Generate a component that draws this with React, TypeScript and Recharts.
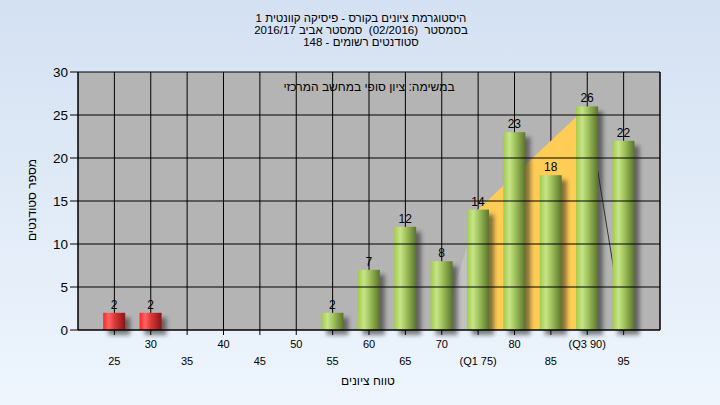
import React from 'react';
import { ComposedChart, Bar, Area, XAxis, YAxis, CartesianGrid, LabelList, ReferenceLine } from 'recharts';

const scoreBins = [25, 30, 35, 40, 45, 50, 55, 60, 65, 70, 75, 80, 85, 90, 95];
const studentCounts = [2, 2, 0, 0, 0, 0, 2, 7, 12, 8, 14, 23, 18, 26, 22];
const xTickLabels = ['25', '30', '35', '40', '45', '50', '55', '60', '65', '70', '(Q1 75)', '80', '85', '(Q3 90)', '95'];
const yTicks = [0, 5, 10, 15, 20, 25, 30];
const lowerWhisker = [{ x: 70, y: 0 }, { x: 75, y: 14 }];
const quartileBox = [{ x: 75, y: 14 }, { x: 90, y: 26 }];
const upperWhisker = [{ x: 90, y: 26 }, { x: 95, y: 0 }];
const titleLines = [
  'היסטוגרמת ציונים בקורס - פיסיקה קוונטית 1',
  'בסמסטר  (02/2016)  סמסטר אביב 2016/17',
  'סטודנטים רשומים - 148',
];
const subtitle = 'במשימה: ציון סופי במחשב המרכזי';
const xAxisTitle = 'טווח ציונים';
const yAxisTitle = 'מספר סטודנטים';
const FAIL_BELOW = 55;
const Y_MAX = 30;

const pick = (arr: { x: number; y: number }[], x: number) => {
  const p = arr.find((d) => d.x === x);
  return p ? p.y : null;
};

const chartData = scoreBins.map((score, i) => ({
  score,
  count: studentCounts[i],
  low: pick(lowerWhisker, score),
  box: pick(quartileBox, score),
  high: pick(upperWhisker, score),
}));

const FONT = "'Liberation Sans', Arial, sans-serif";

const BarShape = (props: any) => {
  const { x, y, width, height, payload, index } = props;
  if (!height || height <= 0) return null;
  const red = payload.score < FAIL_BELOW;
  const gid = `barGrad${index}`;
  const fid = `barBlur${index}`;
  return (
    <g>
      <defs>
        {red ? (
          <linearGradient id={gid} x1="0" y1="0" x2="1" y2="0">
            <stop offset="0%" stopColor="#FF2424" />
            <stop offset="25%" stopColor="#FF6464" />
            <stop offset="50%" stopColor="#E03A3A" />
            <stop offset="100%" stopColor="#8A1414" />
          </linearGradient>
        ) : (
          <linearGradient id={gid} x1="0" y1="0" x2="1" y2="0">
            <stop offset="0%" stopColor="#A2CC4A" />
            <stop offset="28%" stopColor="#C6E48A" />
            <stop offset="50%" stopColor="#A6C860" />
            <stop offset="100%" stopColor="#5A742C" />
          </linearGradient>
        )}
        <filter id={fid} x="-50%" y="-20%" width="200%" height="140%">
          <feGaussianBlur stdDeviation="2" />
        </filter>
      </defs>
      <rect x={x + 5} y={y + 5} width={width} height={height} fill="#202020" opacity={0.55} filter={`url(#${fid})`} />
      <rect x={x} y={y} width={width} height={height} fill={`url(#${gid})`} />
    </g>
  );
};

const XTick = (props: any) => {
  const { x, y, payload } = props;
  const i = scoreBins.indexOf(payload.value);
  const upper = i % 2 === 1;
  return (
    <text x={x} y={y} dy={upper ? 11 : 28} textAnchor="middle" fontSize={11} fill="#000" fontFamily={FONT}>
      {xTickLabels[i]}
    </text>
  );
};

export default function App() {
  return (
    <div
      style={{
        position: 'absolute',
        left: 0,
        top: 0,
        width: 720,
        height: 405,
        background: 'linear-gradient(to bottom, #D4E1F2, #EEF5FD)',
        fontFamily: FONT,
      }}
    >
      <ComposedChart
        width={720}
        height={405}
        data={chartData}
        margin={{ top: 72, right: 20, bottom: 45, left: 38 }}
      >
        <CartesianGrid stroke="#000" strokeWidth={1} fill="#B4B4B4" fillOpacity={1} horizontal={false} />
        <XAxis
          type="number"
          dataKey="score"
          domain={[20, 100]}
          ticks={scoreBins}
          interval={0}
          height={30}
          tickSize={5}
          stroke="#000"
          tick={<XTick />}
        />
        <YAxis
          type="number"
          domain={[0, Y_MAX]}
          ticks={yTicks}
          interval={0}
          width={40}
          tickSize={8}
          stroke="#000"
          tick={{ fill: '#000', fontSize: 13.5, fontFamily: FONT }}
        />
        <YAxis
          yAxisId="right"
          type="number"
          orientation="right"
          domain={[0, Y_MAX]}
          ticks={yTicks}
          interval={0}
          width={40}
          tickSize={8}
          stroke="#000"
          tick={{ fill: '#000', fontSize: 13.5, fontFamily: FONT }}
        />
        {yTicks.map((t) => (
          <ReferenceLine key={t} y={t} stroke="#000" strokeWidth={1} />
        ))}
        <Area
          type="linear"
          dataKey="low"
          connectNulls
          stroke="none"
          fill="#C2C2C2"
          fillOpacity={1}
          isAnimationActive={false}
          dot={false}
          activeDot={false}
        />
        <Area
          type="linear"
          dataKey="box"
          connectNulls
          stroke="none"
          fill="#FFCC55"
          fillOpacity={1}
          isAnimationActive={false}
          dot={false}
          activeDot={false}
        />
        <Area
          type="linear"
          dataKey="high"
          connectNulls
          stroke="#333"
          strokeWidth={1}
          fill="none"
          fillOpacity={0}
          isAnimationActive={false}
          dot={false}
          activeDot={false}
        />
        <Bar dataKey="count" barSize={22} shape={<BarShape />} isAnimationActive={false}>
          <LabelList
            dataKey="count"
            position="top"
            offset={4}
            formatter={(v: any) => (v ? v : '')}
            style={{ fill: '#000', fontSize: 12, fontFamily: FONT }}
          />
        </Bar>
      </ComposedChart>
      <svg
        width={720}
        height={405}
        style={{ position: 'absolute', left: 0, top: 0, pointerEvents: 'none' }}
        fontFamily={FONT}
      >
        {titleLines.map((t, i) => (
          <text
            key={i}
            x={361}
            y={22 + i * 12}
            textAnchor="middle"
            fontSize={11.5}
            fill="#000"
            direction="rtl"
            style={{ whiteSpace: 'pre' }}
          >
            {t}
          </text>
        ))}
        <text x={369} y={91} textAnchor="middle" fontSize={12} fill="#000" direction="rtl">
          {subtitle}
        </text>
        <text x={368} y={385} textAnchor="middle" fontSize={12} fill="#000" direction="rtl">
          {xAxisTitle}
        </text>
        <text
          x={33}
          y={200}
          textAnchor="middle"
          fontSize={12}
          fill="#000"
          direction="rtl"
          transform="rotate(-90, 33, 200)"
          dominantBaseline="middle"
        >
          {yAxisTitle}
        </text>
      </svg>
    </div>
  );
}
